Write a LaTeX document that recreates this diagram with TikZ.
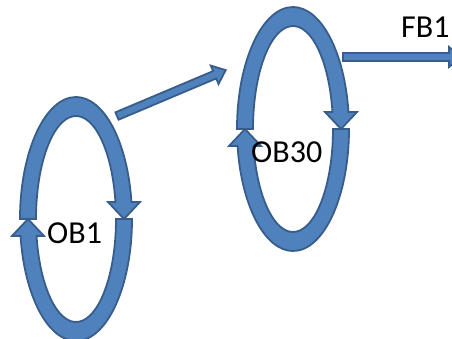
\documentclass[tikz,border=0pt]{standalone}
\usepackage{fontspec}
\setmainfont{Carlito}
\definecolor{bandfill}{HTML}{4F81BD}
\definecolor{bandline}{HTML}{385D8A}
\tikzset{
  x=1pt, y=1pt,
  band/.style={fill=bandfill, draw=bandline, line width=1.8pt, line join=miter},
  label/.style={inner sep=0pt, anchor=base west, font=\fontsize{32}{32}\selectfont},
}
% one closed loop made of two curved arrows, centred at the origin of the scope
\newcommand\looppair{%
  % upper half: runs from the left side over the top, head pointing down on the right
  \draw[band] (-56,0) arc[start angle=180, end angle=8, x radius=56, y radius=122]
    -- (64,17) -- (48,0) -- (32,17) -- (39.45,17)
    arc[start angle=9.5, end angle=180, x radius=40, y radius=103] -- cycle;
  % lower half: runs from the right side under the bottom, head pointing up on the left
  \draw[band] (56,0) arc[start angle=0, end angle=-172, x radius=56, y radius=122]
    -- (-64,-17) -- (-48,0) -- (-32,-17) -- (-39.45,-17)
    arc[start angle=-170.5, end angle=0, x radius=40, y radius=103] -- cycle;
}
% straight block arrow from the local origin along +x, of the given length
\newcommand\blockarrow[1]{%
  \draw[band] (0,-4) -- ({#1-12},-4) -- ({#1-12},-10) -- (#1,0)
    -- ({#1-12},10) -- ({#1-12},4) -- (0,4) -- cycle;
}
\begin{document}
\begin{tikzpicture}
\useasboundingbox (0,0) rectangle (452,-338);
\clip (0,0) rectangle (452,-338);

\coordinate (ob1c) at (76,-219);
\coordinate (ob30c) at (293,-129);
\coordinate (linktail) at (117,-116);
\coordinate (fbtail) at (343,-57);

\begin{scope}[shift={(ob1c)}]\looppair\end{scope}
\begin{scope}[shift={(ob30c)}]\looppair\end{scope}

% link from the first loop to the second
\begin{scope}[shift={(linktail)}, rotate=22.88]\blockarrow{118}\end{scope}
% outgoing arrow towards FB1
\begin{scope}[shift={(fbtail)}]\blockarrow{118}\end{scope}

\node[label] (ob1) at (47,-243) {OB1};
\node[label] (ob30) at (251,-162) {OB30};
\node[label] (fb1) at (401,-37) {FB1};
\end{tikzpicture}
\end{document}
